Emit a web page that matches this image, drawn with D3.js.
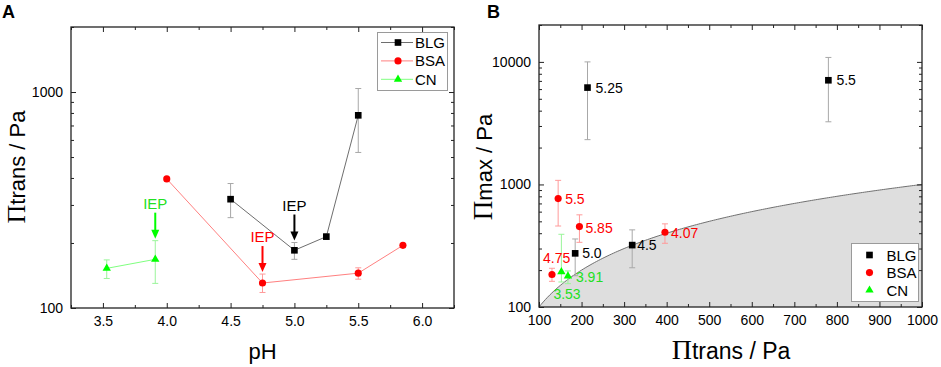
<!DOCTYPE html>
<html>
<head>
<meta charset="utf-8">
<script src="https://cdn.jsdelivr.net/npm/d3@7"></script>
<style>
  body { margin: 0; background: #fff; }
  text { font-family: "Liberation Sans", Arial, sans-serif; }
</style>
</head>
<body>
<svg id="chart" width="941" height="367"></svg>
<script>
// ---------- Panel A : transition pressure vs pH ----------
const phBLG = [4.5, 5.0, 5.25, 5.5];
const transBLG = [319, 185, 214, 780];
const transLoBLG = [262, 168, 208, 525];
const transHiBLG = [377, 201, 220, 1038];

const phBSA = [4.0, 4.75, 5.5, 5.85];
const transBSA = [396, 130.5, 145, 195];
const transLoBSA = [null, 118, 136, null];
const transHiBSA = [null, 143.6, 153.5, null];

const phCN = [3.53, 3.91];
const transCN = [152.6, 168];
const transLoCN = [137, 130];
const transHiCN = [167, 205];

// isoelectric points marked with arrows
const iepProtein = ["CN", "BSA", "BLG"];
const iepPH = [3.91, 4.75, 5.0];

// ---------- Panel B : max pressure vs transition pressure ----------
const labelBLG = ["4.5", "5.0", "5.25", "5.5"];
const maxBLG = [320, 274, 6170, 7080];
const maxLoBLG = [209, 180, 2320, 3245];
const maxHiBLG = [426, 359, 10000, 10870];

const labelBSA = ["4.07", "4.75", "5.5", "5.85"];
const maxBSA = [407, 184, 767, 453];
const maxLoBSA = [331, 162, 458, 337];
const maxHiBSA = [477, 207, 1080, 565];

const labelCN = ["3.53", "3.91"];
const maxCN = [194, 178.5];
const maxLoCN = [160, 155];
const maxHiCN = [392, 197];

// ticks
const tickPH = [3.5, 4.0, 4.5, 5.0, 5.5, 6.0];
const tickPHMinor = [3.25, 3.75, 4.25, 4.75, 5.25, 5.75, 6.25];
const tickTransA = [100, 1000];
const tickTransAMinor = [200, 300, 400, 500, 600, 700, 800, 900, 2000];
const tickTransB = [100, 200, 300, 400, 500, 600, 700, 800, 900, 1000];
const tickTransBMinor = [150, 250, 350, 450, 550, 650, 750, 850, 950];
const tickMaxB = [100, 1000, 10000];
const tickMaxBMinor = [200, 300, 400, 500, 600, 700, 800, 900,
  2000, 3000, 4000, 5000, 6000, 7000, 8000, 9000, 20000];

// ---------- styles ----------
const STYLE = {
  BLG: { mark: "#000", line: "#6e6e6e", err: "#a8a8a8", text: "#000", sym: d3.symbolSquare, size: 44 },
  BSA: { mark: "#ff0000", line: "#ff8080", err: "#ff9a9a", text: "#ff0000", sym: d3.symbolCircle, size: 40 },
  CN:  { mark: "#00ff00", line: "#80ff80", err: "#9af59a", text: "#22e022", sym: d3.symbolTriangle, size: 30 }
};
// label offsets in panel B (dx, dy from the point)
const LABEL_OFF = {
  "BLG 4.5": [5, 5], "BLG 5.0": [7, 5], "BLG 5.25": [8, 5], "BLG 5.5": [8, 5],
  "BSA 4.07": [6, 6], "BSA 4.75": [-9, -12], "BSA 5.5": [7, 5], "BSA 5.85": [6, 6],
  "CN 3.53": [-8, 27], "CN 3.91": [8, 6]
};

const svg = d3.select("#chart");

const seriesA = [
  { name: "BLG", x: phBLG, y: transBLG, lo: transLoBLG, hi: transHiBLG },
  { name: "BSA", x: phBSA, y: transBSA, lo: transLoBSA, hi: transHiBSA },
  { name: "CN",  x: phCN,  y: transCN,  lo: transLoCN,  hi: transHiCN }
];
const seriesB = [
  { name: "BLG", x: transBLG, y: maxBLG, lo: maxLoBLG, hi: maxHiBLG, lab: labelBLG },
  { name: "BSA", x: transBSA, y: maxBSA, lo: maxLoBSA, hi: maxHiBSA, lab: labelBSA },
  { name: "CN",  x: transCN,  y: maxCN,  lo: maxLoCN,  hi: maxHiCN,  lab: labelCN }
];

// scales
const xA = d3.scaleLinear().domain([3.25, 6.25]).range([71, 454]);
const yA = d3.scaleLog().domain([100, 2000]).range([308, 27]);
const xB = d3.scaleLinear().domain([100, 1000]).range([539, 922]);
const yB = d3.scaleLog().domain([100, 20000]).range([307, 25]);

// frame with inward ticks on all four sides
function frame(g, x, y, xMaj, xMin, yMaj, yMin, xFmt, yFmt) {
  const [x0, x1] = x.range();
  const [y0, y1] = y.range();
  const put = (axis, tx, ty) => g.append("g")
    .attr("transform", `translate(${tx},${ty})`)
    .call(axis)
    .call(a => a.select(".domain").remove())
    .call(a => a.selectAll("line").attr("stroke", "#222"))
    .attr("font-size", 14)
    .attr("font-family", "Liberation Sans, Arial, sans-serif");
  put(d3.axisBottom(x).tickValues(xMaj).tickSize(-5).tickPadding(8).tickFormat(xFmt), 0, y0);
  put(d3.axisBottom(x).tickValues(xMin).tickSize(-3).tickFormat(""), 0, y0);
  put(d3.axisTop(x).tickValues(xMaj).tickSize(-5).tickFormat(""), 0, y1);
  put(d3.axisTop(x).tickValues(xMin).tickSize(-3).tickFormat(""), 0, y1);
  put(d3.axisLeft(y).tickValues(yMaj).tickSize(-5).tickPadding(8).tickFormat(yFmt), x0, 0);
  put(d3.axisLeft(y).tickValues(yMin).tickSize(-3).tickFormat(""), x0, 0);
  put(d3.axisRight(y).tickValues(yMaj).tickSize(-5).tickFormat(""), x1, 0);
  put(d3.axisRight(y).tickValues(yMin).tickSize(-3).tickFormat(""), x1, 0);
  g.append("rect")
    .attr("x", x0).attr("y", y1)
    .attr("width", x1 - x0).attr("height", y0 - y1)
    .attr("fill", "none").attr("stroke", "#222").attr("stroke-width", 1.3);
}

function errorBars(g, s, x, y) {
  const st = STYLE[s.name];
  s.x.forEach((v, i) => {
    if (s.lo[i] == null) return;
    const cx = x(v), t = y(s.hi[i]), b = y(s.lo[i]);
    const e = g.append("g").attr("stroke", st.err).attr("stroke-width", 1);
    e.append("line").attr("x1", cx).attr("x2", cx).attr("y1", t).attr("y2", b);
    e.append("line").attr("x1", cx - 3).attr("x2", cx + 3).attr("y1", t).attr("y2", t);
    e.append("line").attr("x1", cx - 3).attr("x2", cx + 3).attr("y1", b).attr("y2", b);
  });
}

function markers(g, s, x, y) {
  const st = STYLE[s.name];
  g.selectAll(null).data(s.x).enter().append("path")
    .attr("d", d3.symbol().type(st.sym).size(st.size))
    .attr("transform", (v, i) => `translate(${x(v)},${y(s.y[i])})`)
    .attr("fill", st.mark);
}

// ---------------- Panel A ----------------
const gA = svg.append("g");
seriesA.forEach(s => {
  gA.append("path")
    .datum(s.x.map((v, i) => [v, s.y[i]]))
    .attr("d", d3.line().x(d => xA(d[0])).y(d => yA(d[1])))
    .attr("fill", "none").attr("stroke", STYLE[s.name].line).attr("stroke-width", 1);
});
seriesA.forEach(s => errorBars(gA, s, xA, yA));
seriesA.forEach(s => markers(gA, s, xA, yA));

// IEP arrows
iepPH.forEach((p, i) => {
  const s = seriesA.find(d => d.name === iepProtein[i]);
  const k = s.x.indexOf(p);
  const col = STYLE[s.name].mark;
  const cx = xA(p), tip = yA(s.hi[k]) - 2, top = tip - 26;
  gA.append("line").attr("x1", cx).attr("x2", cx).attr("y1", top).attr("y2", tip - 8)
    .attr("stroke", col).attr("stroke-width", 2);
  gA.append("path").attr("d", `M${cx - 4},${tip - 9}L${cx + 4},${tip - 9}L${cx},${tip}Z`).attr("fill", col);
  gA.append("text").attr("x", cx).attr("y", top - 4).attr("text-anchor", "middle")
    .attr("font-size", 15).attr("fill", STYLE[s.name].text).text("IEP");
});

frame(gA, xA, yA, tickPH, tickPHMinor, tickTransA, tickTransAMinor, d3.format(".1f"), d3.format("d"));

// legend A
const legA = gA.append("g");
legA.append("rect").attr("x", 377.5).attr("y", 32.5).attr("width", 70).attr("height", 58)
  .attr("fill", "#fff").attr("stroke", "#9a9a9a");
seriesA.forEach((s, i) => {
  const ly = 42.5 + i * 18.4, st = STYLE[s.name];
  legA.append("line").attr("x1", 381).attr("x2", 413).attr("y1", ly).attr("y2", ly)
    .attr("stroke", st.line);
  legA.append("path").attr("d", d3.symbol().type(st.sym).size(st.size))
    .attr("transform", `translate(398,${ly})`).attr("fill", st.mark);
  legA.append("text").attr("x", 415).attr("y", ly + 5.5).attr("font-size", 15).text(s.name);
});

// axis titles A
const tA = gA.append("text").attr("transform", "translate(25,167) rotate(-90)")
  .attr("text-anchor", "middle");
tA.append("tspan").attr("font-family", "Liberation Serif, Times New Roman, serif")
  .attr("font-size", 26).text("Π");
tA.append("tspan").attr("font-size", 22).text("trans / Pa");
gA.append("text").attr("x", 262.5).attr("y", 359).attr("text-anchor", "middle")
  .attr("font-size", 22).text("pH");
gA.append("text").attr("x", 2).attr("y", 18).attr("font-size", 18).attr("font-weight", "bold").text("A");

// ---------------- Panel B ----------------
const gB = svg.append("g");
// region where Πmax < Πtrans, bounded by the line Πmax = Πtrans
const bound = xB.domain();
const idLine = d3.range(bound[0], bound[1] + 1, 5);
gB.append("path").datum(idLine)
  .attr("d", d3.area().x(d => xB(d)).y0(yB.range()[0]).y1(d => yB(d)))
  .attr("fill", "#dedede");
gB.append("path").datum(idLine)
  .attr("d", d3.line().x(d => xB(d)).y(d => yB(d)))
  .attr("fill", "none").attr("stroke", "#707070").attr("stroke-width", 1);

seriesB.forEach(s => errorBars(gB, s, xB, yB));
seriesB.forEach(s => markers(gB, s, xB, yB));
seriesB.forEach(s => {
  s.lab.forEach((l, i) => {
    const off = LABEL_OFF[s.name + " " + l];
    gB.append("text").attr("x", xB(s.x[i]) + off[0]).attr("y", yB(s.y[i]) + off[1])
      .attr("font-size", 14).attr("fill", STYLE[s.name].text).text(l);
  });
});

frame(gB, xB, yB, tickTransB, tickTransBMinor, tickMaxB, tickMaxBMinor, d3.format("d"), d3.format("d"));

// legend B
const legB = gB.append("g");
legB.append("rect").attr("x", 851.5).attr("y", 243.5).attr("width", 67).attr("height", 58)
  .attr("fill", "#fff").attr("stroke", "#9a9a9a");
seriesB.forEach((s, i) => {
  const ly = 255 + i * 17.6, st = STYLE[s.name];
  legB.append("path").attr("d", d3.symbol().type(st.sym).size(st.size))
    .attr("transform", `translate(869.5,${ly})`).attr("fill", st.mark);
  legB.append("text").attr("x", 886.5).attr("y", ly + 5.5).attr("font-size", 15).text(s.name);
});

// axis titles B
const tBy = gB.append("text").attr("transform", "translate(492,167) rotate(-90)")
  .attr("text-anchor", "middle");
tBy.append("tspan").attr("font-family", "Liberation Serif, Times New Roman, serif")
  .attr("font-size", 27).text("Π");
tBy.append("tspan").attr("font-size", 22).text("max / Pa");
const tBx = gB.append("text").attr("x", 731).attr("y", 359).attr("text-anchor", "middle");
tBx.append("tspan").attr("font-family", "Liberation Serif, Times New Roman, serif")
  .attr("font-size", 28).text("Π");
tBx.append("tspan").attr("font-size", 23).text("trans / Pa");
gB.append("text").attr("x", 487).attr("y", 18).attr("font-size", 18).attr("font-weight", "bold").text("B");
</script>
</body>
</html>
